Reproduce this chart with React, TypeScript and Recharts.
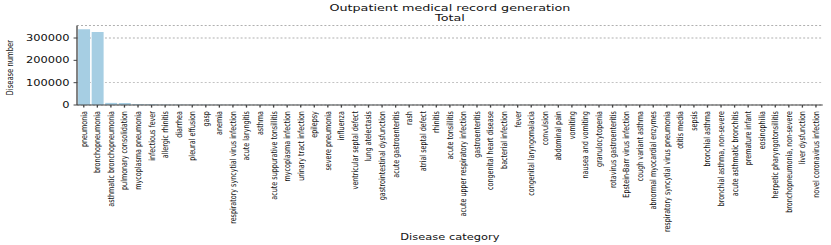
import { BarChart, Bar, XAxis, YAxis, CartesianGrid } from "recharts";

const categories = [
  "pneumonia",
  "bronchopneumonia",
  "asthmatic bronchopneumonia",
  "pulmonary consolidation",
  "mycoplasma pneumonia",
  "infectious fever",
  "allergic rhinitis",
  "diarrhea",
  "pleural effusion",
  "gasp",
  "anemia",
  "respiratory syncytial virus infection",
  "acute laryngitis",
  "asthma",
  "acute suppurative tonsillitis",
  "mycoplasma infection",
  "urinary tract infection",
  "epilepsy",
  "severe pneumonia",
  "influenza",
  "ventricular septal defect",
  "lung atelectasis",
  "gastrointestinal dysfunction",
  "acute gastroenteritis",
  "rash",
  "atrial septal defect",
  "rhinitis",
  "acute tonsillitis",
  "acute upper respiratory infection",
  "gastroenteritis",
  "congenital heart disease",
  "bacterial infection",
  "fever",
  "congenital laryngomalacia",
  "convulsion",
  "abdominal pain",
  "vomiting",
  "nausea and vomiting",
  "granulocytopenia",
  "rotavirus gastroenteritis",
  "Epstein-Barr virus infection",
  "cough variant asthma",
  "abnormal myocardial enzymes",
  "respiratory syncytial virus pneumonia",
  "otitis media",
  "sepsis",
  "bronchial asthma",
  "bronchial asthma, non-severe",
  "acute asthmatic bronchitis",
  "premature infant",
  "eosinophilia",
  "herpetic pharyngotonsillitis",
  "bronchopneumonia, non-severe",
  "liver dysfunction",
  "novel coronavirus infection",
];

const counts = [
  339000, 327000, 9500, 9000, 3200, 2800, 1800, 1500, 1300, 1200, 1100, 1000,
  950, 900, 850, 800, 760, 720, 690, 660, 630, 600, 570, 540, 510, 490, 470,
  450, 430, 410, 390, 370, 350, 330, 310, 300, 290, 280, 270, 260, 250, 240,
  230, 220, 210, 200, 190, 180, 170, 160, 150, 140, 130, 120, 110,
];

const yTicks = [0, 100000, 200000, 300000];

const data = categories.map((name, i) => ({ name, value: counts[i] }));

// the reference figure is stretched sideways, so the chart is drawn narrow and scaled
const STRETCH = 1.33;
const W = 831 / STRETCH;

function CategoryTick(props: any) {
  const { x, y, payload } = props;
  return (
    <text
      x={0}
      y={0}
      transform={`translate(${x + 2.2},${y + 1.5}) rotate(-90)`}
      textAnchor="end"
      fontSize={6.4}
      fontFamily="DejaVu Sans"
      fill="#111"
    >
      {payload.value}
    </text>
  );
}

function YLabel(props: any) {
  const { viewBox } = props;
  const cx = 9.8;
  const cy = viewBox.y + viewBox.height / 2 + 2.5;
  return (
    <text
      x={cx}
      y={cy}
      transform={`rotate(-90, ${cx}, ${cy})`}
      textAnchor="middle"
      fontSize={6.8}
      fontFamily="DejaVu Sans"
      fill="#111"
    >
      Disease number
    </text>
  );
}

export default function App() {
  return (
    <div style={{ position: "absolute", left: 0, top: 0, width: 831, height: 245, background: "#fff", overflow: "hidden" }}>
      <div style={{ position: "absolute", left: 0, top: 0, width: W, height: 245, transform: `scaleX(${STRETCH})`, transformOrigin: "0 0" }}>
        <svg width={W} height={30} style={{ position: "absolute", left: 0, top: 0 }}>
          <text x={338.3} y={10.6} textAnchor="middle" fontSize={9.6} fontFamily="DejaVu Sans" fill="#111">
            Outpatient medical record generation
          </text>
          <text x={338.3} y={21} textAnchor="middle" fontSize={9.6} fontFamily="DejaVu Sans" fill="#111">
            Total
          </text>
        </svg>
        <div style={{ position: "absolute", left: 0, top: 0 }}>
          <BarChart
            width={W}
            height={245}
            data={data}
            margin={{ top: 25.5, right: 6.2, left: 0, bottom: 0 }}
            barCategoryGap="8%"
          >
            <CartesianGrid vertical={false} stroke="#b0b0b0" strokeDasharray="1.5 1.5" strokeWidth={0.8} />
            <XAxis
              dataKey="name"
              interval={0}
              height={140}
              tick={<CategoryTick />}
              tickSize={2.6}
              stroke="#444"
              padding={{ left: 0, right: 0 }}
              label={{ value: "Disease category", position: "insideBottom", offset: 5, fontSize: 8.6, fontFamily: "DejaVu Sans", fill: "#111" }}
            />
            <XAxis xAxisId="top" orientation="top" dataKey="name" height={0} tick={false} tickLine={false} stroke="#444" />
            <YAxis
              width={57.9}
              domain={[0, 356000]}
              ticks={yTicks}
              tickSize={2.6}
              tickMargin={3}
              stroke="#444"
              tick={{ fontSize: 8.6, fontFamily: "DejaVu Sans", fill: "#111" }}
              label={<YLabel />}
            />
            <YAxis yAxisId="right" orientation="right" width={0} tick={false} tickLine={false} stroke="#444" />
            <Bar dataKey="value" fill="#a6cee3" isAnimationActive={false} />
          </BarChart>
        </div>
      </div>
    </div>
  );
}
